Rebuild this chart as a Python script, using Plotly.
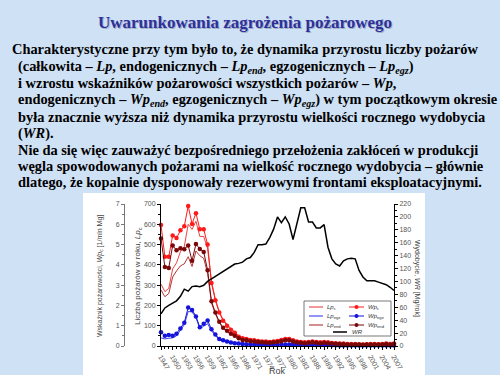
import plotly.graph_objects as go

years = list(range(1947, 2008))

WR = [50, 59, 63, 66, 70, 77, 88, 85, 92, 93, 92, 94, 100, 104, 108, 112, 116, 120, 124, 127,
      128, 130, 135, 137, 145, 157, 157, 158, 168, 181, 200, 191, 200, 189, 165, 189, 214, 214, 192, 192,
      183, 183, 188, 153, 135, 127, 124, 132, 135, 136, 135, 117, 107, 101, 101, 101, 99, 97, 95, 91, 86]

Lp_c = [305, 268, 284, 380, 410, 465, 490, 600, 575, 615, 540, 540, 480, 320, 230, 170, 130, 105, 85, 70,
        50, 42, 38, 34, 30, 28, 26, 25, 24, 26, 30, 34, 38, 38, 32, 25, 22, 20, 22, 24,
        22, 20, 22, 20, 17, 15, 13, 13, 11, 11, 11, 10, 9, 10, 11, 11, 10, 11, 13, 11, 13]

Lp_end = [276, 243, 259, 340, 370, 395, 405, 440, 392, 468, 445, 432, 358, 212, 158, 116, 87, 70, 57, 47,
          36, 29, 27, 23, 21, 19, 17, 16, 15, 17, 19, 23, 27, 27, 21, 17, 15, 13, 15, 17,
          15, 13, 15, 13, 11, 10, 9, 8, 7, 7, 7, 6, 5, 6, 7, 7, 6, 7, 9, 7, 9]

Lp_egz = [40, 35, 38, 40, 50, 75, 105, 170, 168, 140, 85, 98, 110, 75, 50, 30, 25, 20, 15, 12,
          10, 9, 8, 7, 7, 6, 6, 5, 5, 5, 6, 7, 7, 7, 6, 5, 5, 4, 4, 5,
          4, 4, 4, 4, 3, 3, 3, 3, 2, 2, 2, 2, 2, 2, 2, 2, 2, 2, 2, 2, 2]

Wp_c = [5.96, 4.40, 4.40, 5.45, 5.32, 5.70, 5.90, 6.90, 6.02, 6.55, 5.75, 5.75, 5.00, 3.10, 2.25, 1.65, 1.25, 1.00, 0.80, 0.65,
        0.45, 0.38, 0.35, 0.30, 0.28, 0.25, 0.22, 0.22, 0.20, 0.22, 0.25, 0.30, 0.35, 0.35, 0.28, 0.22, 0.20, 0.18, 0.20, 0.22,
        0.20, 0.18, 0.20, 0.18, 0.15, 0.14, 0.12, 0.12, 0.10, 0.10, 0.10, 0.09, 0.08, 0.09, 0.10, 0.10, 0.09, 0.10, 0.12, 0.10, 0.12]

Wp_end = [5.30, 3.90, 3.85, 4.95, 4.72, 4.82, 4.77, 4.96, 4.20, 5.03, 4.78, 4.63, 3.74, 2.20, 1.65, 1.20, 0.90, 0.75, 0.60, 0.50,
          0.38, 0.30, 0.28, 0.24, 0.22, 0.20, 0.18, 0.17, 0.16, 0.18, 0.20, 0.24, 0.28, 0.28, 0.22, 0.18, 0.16, 0.14, 0.16, 0.18,
          0.16, 0.14, 0.16, 0.14, 0.12, 0.11, 0.10, 0.09, 0.08, 0.08, 0.08, 0.07, 0.06, 0.07, 0.08, 0.08, 0.07, 0.08, 0.10, 0.08, 0.10]

Wp_egz = [0.68, 0.50, 0.54, 0.50, 0.61, 0.86, 1.15, 1.90, 1.78, 1.46, 0.92, 1.10, 1.26, 0.82, 0.57, 0.34, 0.28, 0.22, 0.17, 0.14,
          0.12, 0.10, 0.09, 0.08, 0.08, 0.07, 0.07, 0.06, 0.06, 0.06, 0.07, 0.08, 0.08, 0.08, 0.07, 0.06, 0.06, 0.05, 0.05, 0.06,
          0.05, 0.05, 0.05, 0.05, 0.04, 0.04, 0.03, 0.03, 0.03, 0.03, 0.03, 0.03, 0.02, 0.02, 0.03, 0.03, 0.02, 0.02, 0.03, 0.02, 0.03]

x_tick_years = list(range(1947, 2008, 3))

title_text = "Uwarunkowania zagrożenia pożarowego"
body_lines = [
    "Charakterystyczne przy tym było to, że dynamika przyrostu liczby pożarów",
    "(całkowita – <i>Lp</i>, endogenicznych – <i>Lp<sub>end</sub></i>, egzogenicznych – <i>Lp<sub>egz</sub></i>)",
    "i wzrostu wskaźników pożarowości wszystkich pożarów – <i>Wp</i>,",
    "endogenicznych – <i>Wp<sub>end</sub></i>, egzogenicznych – <i>Wp<sub>egz</sub></i>) w tym początkowym okresie",
    "była znacznie wyższa niż dynamika przyrostu wielkości rocznego wydobycia",
    "(<i>WR</i>).",
    "Nie da się więc zauważyć bezpośredniego przełożenia zakłóceń w produkcji",
    "węgla spowodowanych pożarami na wielkość rocznego wydobycia – głównie",
    "dlatego, że kopalnie dysponowały rezerwowymi frontami eksploatacyjnymi.",
]

# ---- layout geometry (pixels) ----
W, H = 500, 375
L, R, T, B = 161, 394, 204, 346


def px_x(x):
    return (x - L) / (R - L)


def px_y(y):
    return (B - y) / (B - T)


SERIF = "Liberation Serif, Times New Roman, Times, serif"
SANS = "Liberation Sans, Arial, sans-serif"

C_LPC, C_LPEGZ, C_LPEND = "#e43030", "#2a2ae6", "#a82020"
C_WPC, C_WPEGZ, C_WPEND = "#ff1a1a", "#1414dc", "#7a0808"

fig = go.Figure()
fig.add_trace(go.Scatter(x=years, y=Lp_c, mode="lines", line=dict(color=C_LPC, width=0.9), yaxis="y", name="Lp_c"))
fig.add_trace(go.Scatter(x=years, y=Lp_egz, mode="lines", line=dict(color=C_LPEGZ, width=0.9), yaxis="y", name="Lp_egz"))
fig.add_trace(go.Scatter(x=years, y=Lp_end, mode="lines", line=dict(color=C_LPEND, width=0.9), yaxis="y", name="Lp_end"))
for vals, col, nm in [(Wp_c, C_WPC, "Wp_c"), (Wp_egz, C_WPEGZ, "Wp_egz"), (Wp_end, C_WPEND, "Wp_end")]:
    fig.add_trace(go.Scatter(x=years, y=vals, mode="lines+markers", yaxis="y2", name=nm,
                             line=dict(color=col, width=1), marker=dict(color=col, size=4.5),
                             cliponaxis=False))
fig.add_trace(go.Scatter(x=years, y=WR, mode="lines", line=dict(color="black", width=1.5), yaxis="y3", name="WR"))

tickfont = dict(family=SANS, size=7, color="#555555")

fig.update_layout(
    width=W, height=H,
    margin=dict(l=L, r=W - R, t=T, b=H - B, pad=0, autoexpand=False),
    paper_bgcolor="#cfe1f4",
    plot_bgcolor="white",
    showlegend=False,
    xaxis=dict(range=[1947, 2007], tickvals=x_tick_years, ticktext=[str(v) for v in x_tick_years],
               tickangle=60, tickfont=tickfont, showgrid=False, zeroline=False, automargin=False,
               showline=True, linecolor="black", linewidth=1, ticks="outside", ticklen=3,
               tickcolor="black", minor=dict(dtick=1, ticks="outside", ticklen=2, tickcolor="black")),
    yaxis=dict(range=[0, 700], tickvals=list(range(0, 701, 100)), tickfont=tickfont, showgrid=False,
               zeroline=False, showline=True, linecolor="black", linewidth=1, ticks="outside", ticklen=3,
               automargin=False,
               tickcolor="black", minor=dict(dtick=50, ticks="outside", ticklen=2, tickcolor="black")),
    yaxis2=dict(range=[0, 7], tickvals=list(range(0, 8)), tickfont=tickfont, showgrid=False,
                zeroline=False, showline=True, linecolor="#777777", linewidth=1, ticks="outside", ticklen=3,
                tickcolor="#777777", overlaying="y", anchor="free", position=0, shift=-37, autoshift=False,
                side="left", automargin=False,
                minor=dict(dtick=0.5, ticks="outside", ticklen=2, tickcolor="#777777")),
    yaxis3=dict(range=[0, 220], tickvals=list(range(0, 221, 20)), tickfont=tickfont, showgrid=False,
                zeroline=False, showline=True, linecolor="black", linewidth=1, ticks="outside", ticklen=3,
                tickcolor="black", overlaying="y", side="right", anchor="x", automargin=False,
                minor=dict(dtick=10, ticks="outside", ticklen=2, tickcolor="black")),
)

shapes = []
# white chart panel
shapes.append(dict(type="rect", xref="paper", yref="paper", x0=px_x(83), x1=px_x(425), y0=px_y(376), y1=px_y(193),
                   fillcolor="white", line=dict(width=0), layer="below"))

annotations = []
# title with soft shadow
annotations.append(dict(text="<b>" + title_text + "</b>", x=px_x(245.5), y=px_y(23.5), xref="paper", yref="paper",
                        showarrow=False, xanchor="center", yanchor="middle",
                        font=dict(family=SERIF, size=17, color="#9fb0c8")))
annotations.append(dict(text="<b>" + title_text + "</b>", x=px_x(244.5), y=px_y(22.5), xref="paper", yref="paper",
                        showarrow=False, xanchor="center", yanchor="middle",
                        font=dict(family=SERIF, size=17, color="#30309a")))
line_y = [49, 67, 83, 100, 117, 133, 150, 166, 182]
for i, (txt, yy) in enumerate(zip(body_lines, line_y)):
    xx = 10 if i == 0 else 16
    annotations.append(dict(text="<b>" + txt + "</b>", x=px_x(xx), y=px_y(yy), xref="paper", yref="paper",
                            showarrow=False, xanchor="left", yanchor="middle",
                            font=dict(family=SERIF, size=14.4, color="black")))

# axis titles
axfont = dict(family=SANS, size=7, color="#444444")
annotations.append(dict(text="Wskaźnik pożarowości, <i>Wp</i><sub>c</sub> [1/mln Mg]", x=px_x(100), y=px_y(276),
                        xref="paper", yref="paper", showarrow=False, textangle=-90, xanchor="center",
                        yanchor="middle", font=axfont))
annotations.append(dict(text="Liczba pożarów w roku, <i>Lp</i><sub>c</sub>", x=px_x(138), y=px_y(276),
                        xref="paper", yref="paper", showarrow=False, textangle=-90, xanchor="center",
                        yanchor="middle", font=dict(family=SANS, size=8, color="#444444")))
annotations.append(dict(text="Wydobycie, <i>WR</i> [Mg/rok]", x=px_x(417), y=px_y(278),
                        xref="paper", yref="paper", showarrow=False, textangle=90, xanchor="center",
                        yanchor="middle", font=axfont))
annotations.append(dict(text="Rok", x=px_x(277), y=px_y(371), xref="paper", yref="paper", showarrow=False,
                        xanchor="center", yanchor="middle",
                        font=dict(family=SANS, size=9, color="#444444")))

# legend (drawn manually to match the compact two-column layout)
shapes.append(dict(type="rect", xref="paper", yref="paper", x0=px_x(304), x1=px_x(391), y0=px_y(336), y1=px_y(301),
                   fillcolor="white", line=dict(color="#555555", width=0.8)))
legfont = dict(family=SANS, size=6, color="#333333")
leg_rows = [307, 316, 325]
left_items = [("Lp", "c", C_LPC), ("Lp", "egz", C_LPEGZ), ("Lp", "end", C_LPEND)]
right_items = [("Wp", "c", C_WPC), ("Wp", "egz", C_WPEGZ), ("Wp", "end", C_WPEND)]
for (nm, sub, col), yy in zip(left_items, leg_rows):
    shapes.append(dict(type="line", xref="paper", yref="paper", x0=px_x(309), x1=px_x(323), y0=px_y(yy), y1=px_y(yy),
                       line=dict(color=col, width=1)))
    annotations.append(dict(text="<i>" + nm + "</i><sub>" + sub + "</sub>", x=px_x(325), y=px_y(yy), xref="paper",
                            yref="paper", showarrow=False, xanchor="left", yanchor="middle", font=legfont))
for (nm, sub, col), yy in zip(right_items, leg_rows):
    shapes.append(dict(type="line", xref="paper", yref="paper", x0=px_x(349), x1=px_x(364), y0=px_y(yy), y1=px_y(yy),
                       line=dict(color=col, width=1)))
    shapes.append(dict(type="circle", xref="paper", yref="paper", x0=px_x(354.5), x1=px_x(358.5),
                       y0=px_y(yy + 2), y1=px_y(yy - 2), fillcolor=col, line=dict(color=col, width=0)))
    annotations.append(dict(text="<i>" + nm + "</i><sub>" + sub + "</sub>", x=px_x(366), y=px_y(yy), xref="paper",
                            yref="paper", showarrow=False, xanchor="left", yanchor="middle", font=legfont))
shapes.append(dict(type="line", xref="paper", yref="paper", x0=px_x(333), x1=px_x(347), y0=px_y(332), y1=px_y(332),
                   line=dict(color="black", width=1.5)))
annotations.append(dict(text="<i>WR</i>", x=px_x(350), y=px_y(332), xref="paper", yref="paper", showarrow=False,
                        xanchor="left", yanchor="middle", font=legfont))

fig.update_layout(shapes=shapes, annotations=annotations)
fig.write_html("out.html", config={"displayModeBar": False},
               post_script="document.body.style.margin='0';document.body.style.padding='0';")
